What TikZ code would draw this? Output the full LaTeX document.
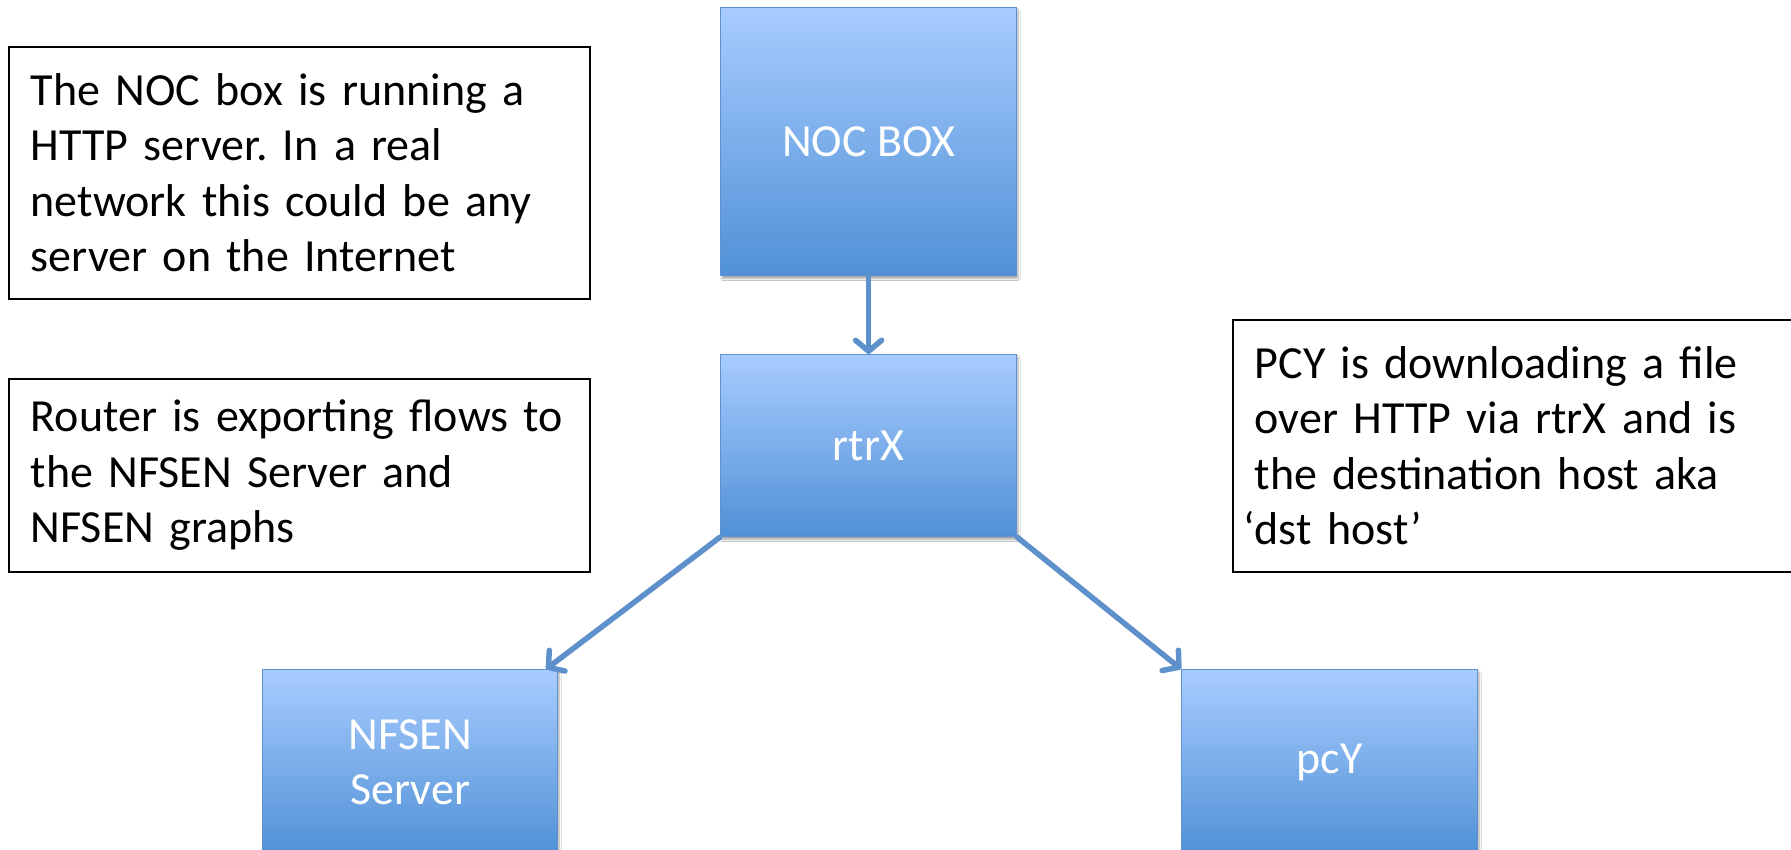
\documentclass[tikz,border=0pt]{standalone}
\usepackage{fontspec}
\setmainfont{Carlito}
\usetikzlibrary{arrows.meta,shadows.blur}
\definecolor{boxtop}{RGB}{168,204,255}
\definecolor{boxbot}{RGB}{80,145,214}
\definecolor{boxedge}{RGB}{95,145,205}
\definecolor{arrowblue}{RGB}{94,145,203}
\frenchspacing
\begin{document}
\begin{tikzpicture}[x=1pt,y=-1pt,
  bluebox/.style={draw=boxedge, line width=1.2pt, top color=boxtop, bottom color=boxbot,
    text=white, font=\fontsize{46}{55.5}\selectfont, align=center, inner sep=0pt,
    anchor=north west,
    blur shadow={shadow xshift=1.5pt, shadow yshift=-3pt, shadow blur steps=6, shadow opacity=35}},
  notebox/.style={draw=black, line width=1.6pt, fill=white,
    font=\fontsize{46}{55.5}\selectfont, align=left, inner xsep=22pt, inner ysep=0pt,
    anchor=north west},
  link/.style={draw=arrowblue, line width=5.5pt, line cap=round,
    -{Straight Barb[length=11pt,width=26pt,line cap=round,line join=round]}}
]
\useasboundingbox (0,0) rectangle (1791,850);
\clip (0,0) rectangle (1791,850);
\fill[white] (0,0) rectangle (1791,850);

\node[bluebox, minimum width=296pt, minimum height=268pt] (noc) at (720,7) {NOC BOX};
\node[bluebox, minimum width=296pt, minimum height=182pt] (rtrx) at (720,354) {rtrX};
\node[bluebox, minimum width=295pt, minimum height=185pt] (nfsen) at (262,669) {NFSEN\\Server};
\node[bluebox, minimum width=296pt, minimum height=185pt] (pcy) at (1181,669) {pcY};

\node[notebox, minimum width=581pt, minimum height=252pt, text width=537pt] (note1) at (8,46)
  {The NOC box is running a\\HTTP server. In a real\\network this could be any\\server on the Internet};
\node[notebox, minimum width=581pt, minimum height=193pt, text width=537pt] (note2) at (8,378)
  {Router is exporting flows to\\the NFSEN Server and\\NFSEN graphs};
\node[notebox, minimum width=570pt, minimum height=252pt, text width=526pt] (note3) at (1232,319)
  {PCY is downloading a file\\over HTTP via rtrX and is\\the destination host aka\\\leavevmode\llap{‘}dst host’};

\coordinate (nfsenin) at ([xshift=-12pt]nfsen.north east);
\draw[link] (noc.south) -- (rtrx.north);
\draw[link] (rtrx.south west) -- (nfsenin);
\draw[link] (rtrx.south east) -- (pcy.north west);
\end{tikzpicture}
\end{document}
